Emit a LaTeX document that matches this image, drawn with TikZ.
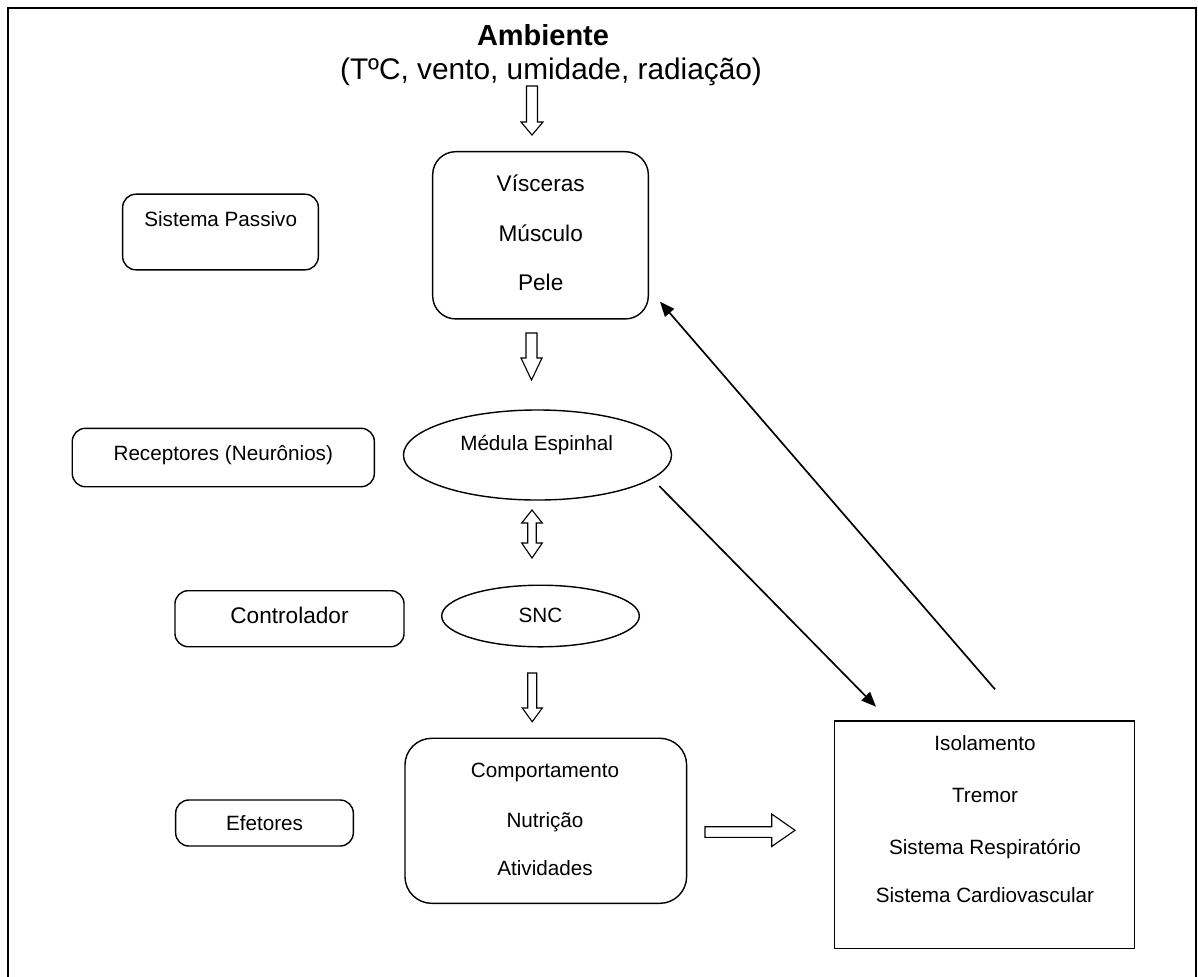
\documentclass[tikz,border=0pt]{standalone}
\usepackage{fontspec}
\setmainfont{Liberation Sans}
\usetikzlibrary{arrows.meta,shapes.geometric}
\newcommand\fsmall{\fontsize{14.7pt}{17pt}\selectfont}
\newcommand\flarge{\fontsize{16.1pt}{19pt}\selectfont}
\newcommand\ftitle{\fontsize{20.6pt}{24pt}\selectfont}
\newcommand\fsubtitle{\fontsize{21.2pt}{24pt}\selectfont}
\begin{document}
\begin{tikzpicture}[x=0.025cm,y=-0.025cm,
  frame/.style={line width=1.8pt},
  rbox/.style={draw, line width=1pt, inner sep=0pt},
  ell/.style={draw, ellipse, line width=1pt, inner sep=0pt},
  st/.style={inner sep=0pt, font=\fsmall, text height=10.5pt, text depth=0pt},
  lt/.style={inner sep=0pt, font=\flarge, text height=11.5pt, text depth=0pt},
  hol/.style={draw, line width=0.8pt, fill=white, line join=miter},
  conn/.style={line width=1.2pt, -{Triangle[length=10.5pt,width=8.5pt]}}]
\useasboundingbox (0,0) rectangle (1198,976);
\draw[frame] (8,980) -- (8,8) -- (1196,8) -- (1196,980);

% title
\node[inner sep=0pt, anchor=base, font=\ftitle\bfseries] (amb) at (543,45) {Ambiente};
\node[inner sep=0pt, anchor=base, font=\fsubtitle] (ambsub) at (551,79) {(TºC, vento, umidade, radiação)};

% hollow arrows
\draw[hol] (526.5,86) -- (537.5,86) -- (537.5,122) -- (543,122) -- (532,135) -- (521,122) -- (526.5,122) -- cycle;
\draw[hol] (526,333) -- (537,333) -- (537,358) -- (542,358) -- (531.5,380) -- (521,358) -- (526,358) -- cycle;
\draw[hol] (532,510) -- (542.3,523) -- (536.3,523) -- (536.3,543) -- (542.3,543) -- (532,558) -- (521.7,543) -- (527.7,543) -- (527.7,523) -- (521.7,523) -- cycle;
\draw[hol] (527.7,673) -- (536.7,673) -- (536.7,708) -- (542.3,708) -- (532.2,721.7) -- (522.3,708) -- (527.7,708) -- cycle;
\draw[hol] (705,826.7) -- (771.7,826.7) -- (771.7,814) -- (795,830.3) -- (771.7,846.5) -- (771.7,837.3) -- (705,837.3) -- cycle;

% central column
\node[rbox, rounded corners=0.575cm, minimum width=5.39cm, minimum height=4.18cm] (visc) at (540.5,235.3) {};
\node[lt] (v1) at (540.7,183) {Vísceras};
\node[lt] (v2) at (540.7,233) {Músculo};
\node[lt] (v3) at (540.7,282) {Pele};

\node[ell, minimum width=6.7cm, minimum height=2.25cm] (med) at (537.5,455) {};
\node[st] (medt) at (536.7,443) {Médula Espinhal};

\node[ell, minimum width=4.94cm, minimum height=1.54cm] (snc) at (540.5,616) {};
\node[st] (snct) at (540.5,615) {SNC};

\node[rbox, rounded corners=0.67cm, minimum width=7.04cm, minimum height=4.125cm] (comp) at (545.8,820.8) {};
\node[st] (c1) at (545,770) {Comportamento};
\node[st] (c2) at (545,820) {Nutrição};
\node[st] (c3) at (545,868) {Atividades};

% right box
\node[rbox, minimum width=7.5cm, minimum height=5.68cm] (efe) at (984.3,834.7) {};
\node[st] (e1) at (985,743) {Isolamento};
\node[st] (e2) at (985,795) {Tremor};
\node[st] (e3) at (985,846.7) {Sistema Respiratório};
\node[st] (e4) at (985,895) {Sistema Cardiovascular};

% left column
\node[rbox, rounded corners=0.33cm, minimum width=4.89cm, minimum height=1.89cm] (sp) at (220.5,232) {};
\node[st] (spt) at (220.7,219.3) {Sistema Passivo};
\node[rbox, rounded corners=0.33cm, minimum width=7.55cm, minimum height=1.46cm] (rec) at (223.3,457.5) {};
\node[st] (rect) at (223.3,453.3) {Receptores (Neurônios)};
\node[rbox, rounded corners=0.33cm, minimum width=5.725cm, minimum height=1.4cm] (ctl) at (289.5,618.7) {};
\node[lt] (ctlt) at (289.5,615) {Controlador};
\node[rbox, rounded corners=0.33cm, minimum width=4.44cm, minimum height=1.15cm] (eft) at (264.5,823) {};
\node[st] (eftt) at (264.5,823) {Efetores};

% connectors
\coordinate (m1) at (659.3,486);
\coordinate (m2) at (876,706.7);
\coordinate (r1) at (995,689.3);
\coordinate (r2) at (660,301.7);
\draw[conn] (m1) -- (m2);
\draw[conn] (r1) -- (r2);
\end{tikzpicture}
\end{document}
